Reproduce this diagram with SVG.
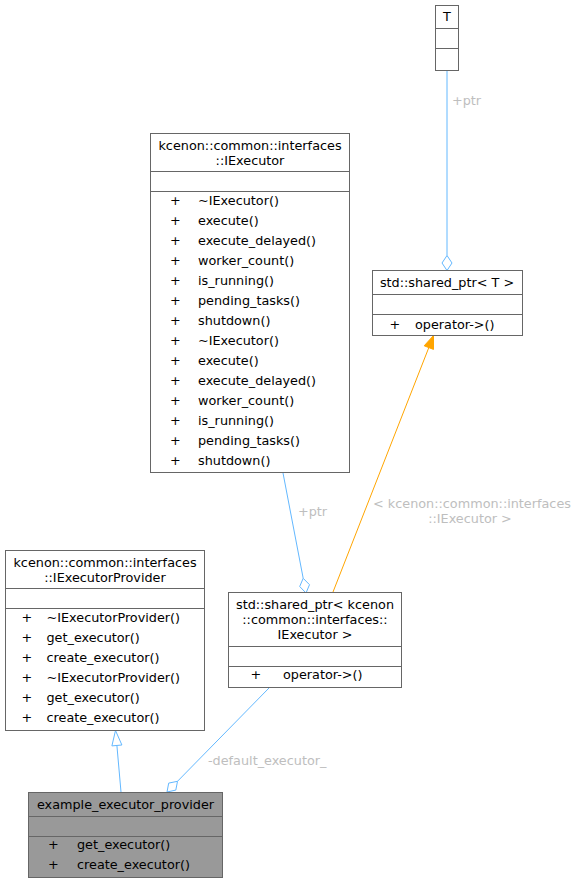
<svg xmlns="http://www.w3.org/2000/svg" width="579" height="884" viewBox="0 0 579 884">
<style>
text{font-family:"DejaVu Sans",sans-serif;font-size:12.8px;fill:#000}
.c{text-anchor:middle}
.box{fill:#fff;stroke:#666;stroke-width:1}
.gray{fill:#999;stroke:#666;stroke-width:1}
.div{stroke:#666;stroke-width:1}
.e{fill:none;stroke:#63b8ff;stroke-width:1}
.ah{fill:#fff;stroke:#63b8ff;stroke-width:1}
.lbl{fill:#bebebe}
</style>
<rect width="579" height="884" fill="#fff"/>
<g id="edges">
  <path class="e" d="M447,71 L447,255.5"/>
  <polygon class="ah" points="447,270.5 452,263 447,255.5 442,263"/>
  <text class="lbl" x="452" y="104.5">+ptr</text>

  <path class="e" d="M283,473 L303.2,578.3"/>
  <polygon class="ah" points="306,593 309.5,584.7 303.2,578.3 299.7,586.5"/>
  <text class="lbl" x="298" y="515.5">+ptr</text>

  <path d="M333,592 L428.8,347.6" fill="none" stroke="#ffa500" stroke-width="1"/>
  <polygon points="433.5,335.5 433.5,349.4 424.2,345.8" fill="#ffa500" stroke="#ffa500" stroke-width="1"/>
  <text class="lbl c" x="472" y="507.5">&lt; kcenon::common::interfaces</text>
  <text class="lbl c" x="470" y="522.5">::IExecutor &gt;</text>

  <path class="e" d="M269,688 L177.5,781.3"/>
  <polygon class="ah" points="167,792 175.8,790.1 177.5,781.3 168.7,783.1"/>
  <text class="lbl" x="208" y="765">-default_executor_</text>

  <path class="e" d="M121,792 L116.9,745.4"/>
  <polygon class="ah" points="115.5,730.5 121.9,745 111.9,745.9"/>
</g>

<g id="node-T">
  <rect class="box" x="435.5" y="5.5" width="23" height="65"/>
  <line class="div" x1="435.5" y1="28.5" x2="458.5" y2="28.5"/>
  <line class="div" x1="435.5" y1="48.5" x2="458.5" y2="48.5"/>
  <text class="c" x="447" y="21">T</text>
</g>

<g id="node-shared_ptr_T">
  <rect class="box" x="372.5" y="270.5" width="150" height="65"/>
  <line class="div" x1="372.5" y1="294.5" x2="522.5" y2="294.5"/>
  <line class="div" x1="372.5" y1="314.5" x2="522.5" y2="314.5"/>
  <text class="c" x="447" y="287">std::shared_ptr&lt; T &gt;</text>
  <text x="389.5" y="328.5">+</text>
  <text x="415" y="328.5">operator-&gt;()</text>
</g>

<g id="node-IExecutor">
  <rect class="box" x="150.5" y="133.5" width="199" height="339"/>
  <line class="div" x1="150.5" y1="171.5" x2="349.5" y2="171.5"/>
  <line class="div" x1="150.5" y1="191.5" x2="349.5" y2="191.5"/>
  <text class="c" x="250" y="150">kcenon::common::interfaces</text>
  <text class="c" x="250" y="165">::IExecutor</text>
  <g>
    <text x="170" y="205">+</text><text x="198" y="205">~IExecutor()</text>
    <text x="170" y="225">+</text><text x="198" y="225">execute()</text>
    <text x="170" y="245">+</text><text x="198" y="245">execute_delayed()</text>
    <text x="170" y="265">+</text><text x="198" y="265">worker_count()</text>
    <text x="170" y="285">+</text><text x="198" y="285">is_running()</text>
    <text x="170" y="305">+</text><text x="198" y="305">pending_tasks()</text>
    <text x="170" y="325">+</text><text x="198" y="325">shutdown()</text>
    <text x="170" y="345">+</text><text x="198" y="345">~IExecutor()</text>
    <text x="170" y="365">+</text><text x="198" y="365">execute()</text>
    <text x="170" y="385">+</text><text x="198" y="385">execute_delayed()</text>
    <text x="170" y="405">+</text><text x="198" y="405">worker_count()</text>
    <text x="170" y="425">+</text><text x="198" y="425">is_running()</text>
    <text x="170" y="445">+</text><text x="198" y="445">pending_tasks()</text>
    <text x="170" y="465">+</text><text x="198" y="465">shutdown()</text>
  </g>
</g>

<g id="node-IExecutorProvider">
  <rect class="box" x="5.5" y="550.5" width="199" height="180"/>
  <line class="div" x1="5.5" y1="588.5" x2="204.5" y2="588.5"/>
  <line class="div" x1="5.5" y1="608.5" x2="204.5" y2="608.5"/>
  <text class="c" x="105" y="567">kcenon::common::interfaces</text>
  <text class="c" x="105" y="582">::IExecutorProvider</text>
  <text x="21.5" y="622">+</text><text x="46.5" y="622">~IExecutorProvider()</text>
  <text x="21.5" y="642">+</text><text x="46.5" y="642">get_executor()</text>
  <text x="21.5" y="662">+</text><text x="46.5" y="662">create_executor()</text>
  <text x="21.5" y="682">+</text><text x="46.5" y="682">~IExecutorProvider()</text>
  <text x="21.5" y="702">+</text><text x="46.5" y="702">get_executor()</text>
  <text x="21.5" y="722">+</text><text x="46.5" y="722">create_executor()</text>
</g>

<g id="node-shared_ptr_IExecutor">
  <rect class="box" x="228.5" y="592.5" width="173" height="95"/>
  <line class="div" x1="228.5" y1="646.5" x2="401.5" y2="646.5"/>
  <line class="div" x1="228.5" y1="666.5" x2="401.5" y2="666.5"/>
  <text class="c" x="315" y="609">std::shared_ptr&lt; kcenon</text>
  <text class="c" x="315" y="624">::common::interfaces::</text>
  <text class="c" x="315" y="639">IExecutor &gt;</text>
  <text x="250.5" y="679">+</text>
  <text x="283" y="679">operator-&gt;()</text>
</g>

<g id="node-example_executor_provider">
  <rect class="gray" x="28.5" y="792.5" width="194" height="85"/>
  <line class="div" x1="28.5" y1="816.5" x2="222.5" y2="816.5"/>
  <line class="div" x1="28.5" y1="836.5" x2="222.5" y2="836.5"/>
  <text class="c" x="125.5" y="809">example_executor_provider</text>
  <text x="48" y="849">+</text><text x="77" y="849">get_executor()</text>
  <text x="48" y="869">+</text><text x="77" y="869">create_executor()</text>
</g>
</svg>
